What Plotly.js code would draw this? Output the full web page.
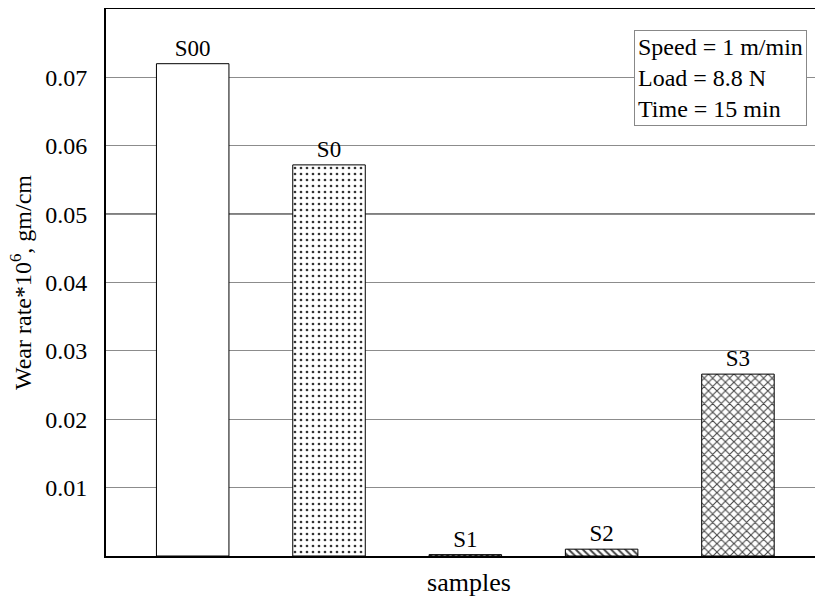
<!DOCTYPE html>
<html>
<head>
<meta charset="utf-8">
<script src="https://cdn.plot.ly/plotly-3.0.1.min.js"></script>
<style>
html,body{margin:0;padding:0;background:#fff;overflow:hidden;}
#wrap{width:815px;height:599px;overflow:hidden;}
#chart{width:832px;height:599px;}
</style>
</head>
<body>
<div id="wrap"><div id="chart"></div></div>
<script>
const samples = ["S00", "S0", "S1", "S2", "S3"];
const wearRate = [0.0720, 0.0572, 0.0002, 0.0010, 0.0266];
const patterns = ["", ".", "/", "\\", "x"];
const yTicks = [0.01, 0.02, 0.03, 0.04, 0.05, 0.06, 0.07];
const yTickText = ["0.01", "0.02", "0.03", "0.04", "0.05", "0.06", "0.07"];
const conditions = ["Speed = 1 m/min", "Load = 8.8 N", "Time = 15 min"];

const FONT = "Liberation Serif, Times New Roman, serif";

const trace = {
  type: "bar",
  x: samples.map((s, i) => i),
  y: wearRate,
  width: 0.532,
  text: samples,
  textposition: "outside",
  cliponaxis: false,
  constraintext: "none",
  textfont: {family: FONT, size: 23, color: "#000"},
  marker: {
    color: "#ffffff",
    line: {color: "#000", width: 1},
    pattern: {
      shape: patterns,
      fillmode: "overlay",
      fgcolor: ["#333333", "#333333", "#333333", "#444444", "#444444"],
      fgopacity: 1,
      size: [8, 6, 4, 5, 6],
      solidity: [0.3, 0.16, 0.6, 0.4, 0.32]
    }
  },
  hoverinfo: "skip"
};

const layout = {
  width: 832,
  height: 599,
  margin: {l: 106, r: 0, t: 9, b: 43},
  paper_bgcolor: "#fff",
  plot_bgcolor: "#fff",
  showlegend: false,
  font: {family: FONT, size: 24, color: "#000"},
  xaxis: {
    type: "linear",
    range: [-0.636, 4.69],
    showticklabels: false,
    ticks: "",
    showgrid: false,
    zeroline: false,
    showline: true,
    linecolor: "#000",
    linewidth: 1.5,
    mirror: true,
    title: {text: "samples", font: {family: FONT, size: 26}, standoff: 16},
    fixedrange: true
  },
  yaxis: {
    range: [0, 0.08],
    tickvals: yTicks,
    ticktext: yTickText,
    ticks: "",
    ticklabelstandoff: 12,
    tickfont: {family: FONT, size: 24},
    showgrid: true,
    gridcolor: "#8c8c8c",
    gridwidth: 1,
    zeroline: false,
    showline: true,
    linecolor: "#000",
    linewidth: 2,
    title: {text: "Wear rate*10<sup>6</sup>, gm/cm", font: {family: FONT, size: 24}, standoff: 7},
    fixedrange: true
  },
  shapes: [{
    type: "line", xref: "paper", yref: "y",
    x0: 0, x1: 1, y0: yTicks[4], y1: yTicks[4],
    line: {color: "#000", width: 1.5},
    layer: "below"
  }],
  annotations: [{
    xref: "paper", yref: "paper",
    x: 0.9656, y: 0.9616,
    xanchor: "right", yanchor: "top",
    text: conditions.join("<br>"),
    align: "left",
    showarrow: false,
    font: {family: FONT, size: 24, color: "#000"},
    bordercolor: "#888",
    borderwidth: 1,
    borderpad: 3,
    bgcolor: "#fff"
  }]
};

Plotly.newPlot("chart", [trace], layout, {staticPlot: true, displayModeBar: false});
</script>
</body>
</html>
